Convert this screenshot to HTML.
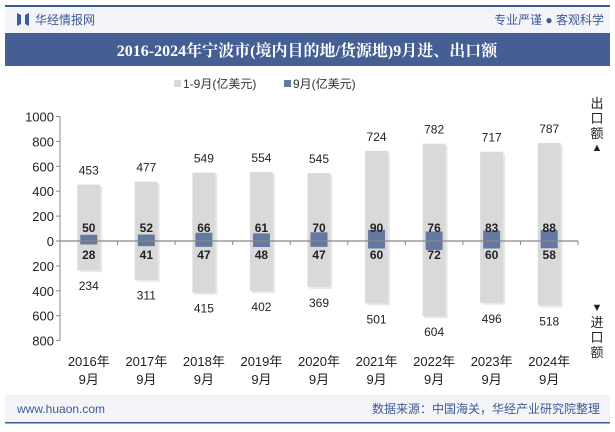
<!DOCTYPE html>
<html><head><meta charset="utf-8"><style>
body{margin:0;width:615px;height:427px;overflow:hidden;background:#fff;font-family:"Liberation Sans","Noto Sans CJK SC",sans-serif;}
</style></head><body>
<svg id="c" width="615" height="427" xmlns="http://www.w3.org/2000/svg" font-family="Liberation Sans, Noto Sans CJK SC, sans-serif">
<rect x="0" y="0" width="615" height="427" fill="#fff"/>
<rect x="5" y="5" width="605" height="2" fill="#3e5a92"/>
<rect x="5" y="7" width="605" height="26" fill="#f2f4f8"/>
<path d="M17 13 L21 15 L21 24 L17 26 Z M25 15 L29 13 L29 26 L25 24 Z" fill="#3e5a92"/>
<text x="35" y="24" font-size="12" fill="#3e5a92">华经情报网</text>
<text x="604" y="24" font-size="12" fill="#3e5a92" text-anchor="end">专业严谨 ● 客观科学</text>
<rect x="5" y="33" width="605" height="33" fill="#455e94"/>
<text x="307" y="56" font-size="16" font-weight="bold" fill="#fff" text-anchor="middle" font-family="Liberation Serif, Noto Serif CJK SC, serif">2016-2024年宁波市(境内目的地/货源地)9月进、出口额</text>
<rect x="174" y="80" width="7" height="7" fill="#d9d9d9"/>
<text x="183" y="88" font-size="12" fill="#333">1-9月(亿美元)</text>
<rect x="284" y="80" width="7" height="7" fill="#6478a0"/>
<text x="293" y="88" font-size="12" fill="#333">9月(亿美元)</text>
<g font-size="13" fill="#222" text-anchor="middle">
<text x="597" y="108">出</text><text x="597" y="123">口</text><text x="597" y="138">额</text><text x="597" y="151" font-size="11">▲</text>
<text x="597" y="311" font-size="11">▼</text><text x="597" y="327">进</text><text x="597" y="342">口</text><text x="597" y="357">额</text>
</g>
<g id="plot"></g>
<rect x="5" y="395" width="605" height="27" fill="#f2f4f8"/>
<rect x="5" y="422" width="605" height="1.5" fill="#3e5a92"/>
<text x="17" y="413" font-size="12" fill="#3e5a92">www.huaon.com</text>
<text x="600" y="413" font-size="12" fill="#3e5a92" text-anchor="end">数据来源：中国海关，华经产业研究院整理</text>
</svg>
<script>
const categories=["2016年","2017年","2018年","2019年","2020年","2021年","2022年","2023年","2024年"];
const ytdExport=[453,477,549,554,545,724,782,717,787];
const ytdImport=[234,311,415,402,369,501,604,496,518];
const monExport=[50,52,66,61,70,90,76,83,88];
const monImport=[28,41,47,48,47,60,72,60,58];
const yTicks=[1000,800,600,400,200,0,-200,-400,-600,-800];
const NS="http://www.w3.org/2000/svg";
const g=document.getElementById('plot');
const x0=60,x1=578,y0=241,k=0.1245;
const yS=v=>y0-v*k;
const step=(x1-x0)/categories.length;
const xC=i=>x0+step*(i+0.5);
function mk(t,a,txt){const e=document.createElementNS(NS,t);for(const n in a)e.setAttribute(n,a[n]);if(txt!=null)e.textContent=txt;g.appendChild(e);return e;}
let e=mk('line',{x1:x0,x2:x0,y1:yS(1000),y2:yS(-800),stroke:'#888'});


yTicks.forEach(v=>{
 const t=mk('text',{x:x0-6,y:yS(v)+5,'font-size':13,fill:'#222','text-anchor':'end'},String(Math.abs(v)));
 
 
 mk('line',{x1:x0-4,x2:x0,y1:yS(v),y2:yS(v),stroke:'#888'});
});
categories.forEach((c,i)=>{
 const cx=xC(i);
 mk('rect',{x:cx-11.5+2,y:yS(ytdExport[i])+2,width:23,height:(ytdExport[i]+ytdImport[i])*k,fill:'#ccc',opacity:0.45});
 const b=mk('rect',{x:cx-11.5,y:yS(ytdExport[i]),width:23,height:(ytdExport[i]+ytdImport[i])*k,fill:'#d9d9d9'});
 
 
 const m=mk('rect',{x:cx-8.5,y:yS(monExport[i]),width:17,height:(monExport[i]+monImport[i])*k,fill:'#6478a0'});
 
 
 let t=mk('text',{x:cx,y:yS(ytdExport[i])-10,'font-size':12,fill:'#222','text-anchor':'middle'},ytdExport[i]);
 
 
 t=mk('text',{x:cx,y:yS(-ytdImport[i])+20,'font-size':12,fill:'#222','text-anchor':'middle'},ytdImport[i]);
 
 
 t=mk('text',{x:cx,y:232,'font-size':12,'font-weight':'bold',fill:'#222','text-anchor':'middle'},monExport[i]);
 
 
 t=mk('text',{x:cx,y:259,'font-size':12,'font-weight':'bold',fill:'#222','text-anchor':'middle'},monImport[i]);
 
 
 t=mk('text',{x:cx,y:366,'font-size':13,fill:'#222','text-anchor':'middle'},c);
 
 
 t=mk('text',{x:cx,y:384,'font-size':13,fill:'#222','text-anchor':'middle'},'9月');
 
 
 mk('line',{x1:x0+step*(i+1),x2:x0+step*(i+1),y1:y0,y2:y0+4,stroke:'#888'});
});
e=mk('line',{x1:x0,x2:x1,y1:y0,y2:y0,stroke:'#888','stroke-width':1.2});


</script>
</body></html>
